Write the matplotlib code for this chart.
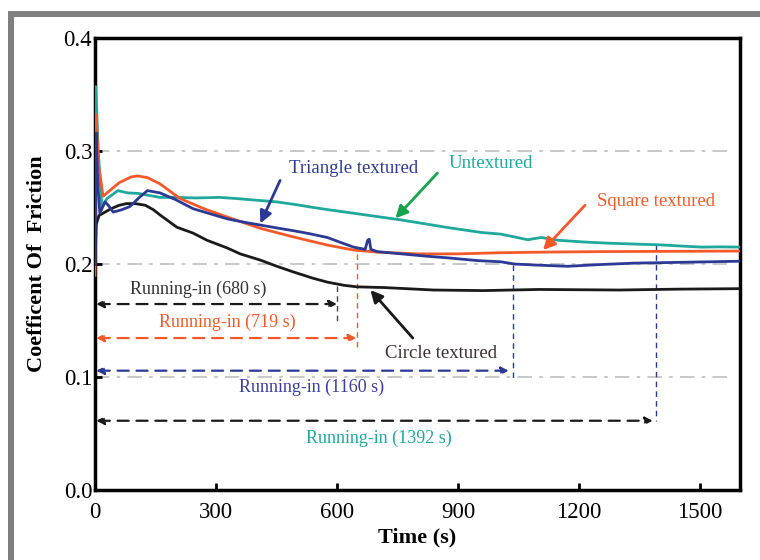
import numpy as np
import matplotlib.pyplot as plt
from matplotlib.patches import Rectangle

plt.rcParams['font.family'] = ['Liberation Serif', 'DejaVu Serif']

# Friction curves (time in s, coefficient of friction)
t_untex = [0, 2, 8, 17, 30, 57, 80, 107, 161, 200, 250, 308, 350, 400, 451, 500,
           534, 580, 641, 700, 760, 820, 880, 957, 1006, 1040, 1073, 1106, 1150,
           1213, 1270, 1337, 1400, 1450, 1503, 1550, 1600]
cof_untex = [0.250, 0.357, 0.300, 0.251, 0.258, 0.265, 0.263, 0.2625, 0.259, 0.259,
             0.2585, 0.259, 0.258, 0.2565, 0.255, 0.2525, 0.2505, 0.248, 0.245, 0.242,
             0.239, 0.2355, 0.232, 0.228, 0.2265, 0.224, 0.2215, 0.2235, 0.221, 0.2195,
             0.2185, 0.2177, 0.217, 0.216, 0.215, 0.2152, 0.215]

t_square = [0, 3, 8, 20, 40, 60, 89, 105, 130, 161, 211, 270, 328, 410, 492, 576,
            641, 700, 800, 900, 1006, 1100, 1255, 1400, 1600]
cof_square = [0.19, 0.332, 0.29, 0.260, 0.266, 0.272, 0.277, 0.278, 0.2765, 0.271,
              0.258, 0.249, 0.2416, 0.2316, 0.224, 0.2168, 0.2124, 0.2105, 0.209,
              0.209, 0.210, 0.2105, 0.211, 0.2112, 0.2115]

t_tri = [0, 3, 7, 12, 25, 33, 45, 66, 87, 110, 130, 161, 200, 243, 290, 328, 370,
         410, 450, 492, 530, 576, 610, 641, 670, 676, 680, 684, 700, 760, 820, 874,
         950, 1006, 1040, 1100, 1172, 1250, 1337, 1450, 1600]
cof_tri = [0.20, 0.316, 0.27, 0.245, 0.255, 0.252, 0.246, 0.248, 0.251, 0.259, 0.265,
           0.263, 0.257, 0.249, 0.244, 0.240, 0.237, 0.2345, 0.232, 0.2295, 0.227,
           0.2235, 0.219, 0.215, 0.213, 0.221, 0.222, 0.213, 0.211, 0.209, 0.207,
           0.2055, 0.203, 0.202, 0.200, 0.199, 0.198, 0.1995, 0.2008, 0.2015, 0.2025]

t_circle = [0, 3, 10, 20, 40, 60, 78, 100, 125, 145, 161, 203, 243, 278, 328, 360,
            410, 451, 492, 540, 576, 617, 650, 716, 840, 964, 1100, 1300, 1450, 1600]
cof_circle = [0.20, 0.235, 0.243, 0.245, 0.249, 0.252, 0.2535, 0.2535, 0.252, 0.248,
              0.2435, 0.2326, 0.2274, 0.221, 0.2142, 0.209, 0.2035, 0.198, 0.193,
              0.1875, 0.184, 0.1812, 0.1798, 0.1792, 0.177, 0.1765, 0.1775, 0.177,
              0.1778, 0.1782]

# running-in periods: arrow end t, arrow y, marker t, marker top, marker bottom
run_labels = ['Running-in (680 s)', 'Running-in (719 s)',
              'Running-in (1160 s)', 'Running-in (1392 s)']
run_end = [600, 648, 1026, 1383]
run_y = [0.1646, 0.1345, 0.1056, 0.0613]
mark_t = [600, 650, 1036, 1392]
mark_top = [0.1805, 0.209, 0.199, 0.217]
mark_bot = [0.148, 0.124, 0.097, 0.0613]
run_text_xy = [(256, 0.178), (328, 0.148), (537, 0.091), (703, 0.046)]

c_teal = '#1fa89b'
c_red = '#f4592a'
c_blue = '#2c3a96'
c_black = '#1a1a1a'
c_green = '#17a34a'

fig = plt.figure(figsize=(7.6, 5.6), dpi=100)
ax = fig.add_axes([0.125, 0.125, 0.849, 0.807])

# grey frame around the picture
fig.add_artist(Rectangle((8/760, 1 - 17/560), 1, 6/560, transform=fig.transFigure,
                         color='#7f7f7f', lw=0))
fig.add_artist(Rectangle((8/760, 0), 6/760, 1 - 11/560, transform=fig.transFigure,
                         color='#7f7f7f', lw=0))

for gy in [0.1, 0.2, 0.3]:
    ax.plot([0, 1570], [gy, gy], color='#c4c4c4', lw=1.3,
            dashes=(8, 4, 2, 4), zorder=1)

ax.plot(t_untex, cof_untex, color=c_teal, lw=2, zorder=3)
ax.plot(t_square, cof_square, color=c_red, lw=2, zorder=3)
ax.plot(t_tri, cof_tri, color=c_blue, lw=2, zorder=4)
ax.plot(t_circle, cof_circle, color=c_black, lw=2, zorder=3)

run_cols = [c_black, c_red, c_blue, c_black]
mark_cols = ['#444444', c_red, c_blue, c_blue]
text_cols = ['#333333', c_red, '#3a3ea0', c_teal]
for i in range(4):
    ax.annotate('', xy=(run_end[i], run_y[i]), xytext=(3, run_y[i]),
                arrowprops=dict(arrowstyle='<|-|>', color=run_cols[i], lw=1.6,
                                linestyle=(0, (5, 3.5)), shrinkA=0, shrinkB=0,
                                mutation_scale=11))
    ax.plot([mark_t[i], mark_t[i]], [mark_top[i], mark_bot[i]], color=mark_cols[i],
            lw=1, dashes=(4, 3))
    ax.text(run_text_xy[i][0], run_text_xy[i][1], run_labels[i], color=text_cols[i],
            fontsize=13, ha='center', va='center')

# curve labels with pointer arrows
labels = ['Triangle textured', 'Untextured', 'Square textured', 'Circle textured']
label_xy = [(641, 0.285), (981, 0.289), (1391, 0.255), (857, 0.121)]
arrow_from = [(459, 0.274), (849, 0.2805), (1215, 0.252), (788, 0.1345)]
arrow_to = [(410, 0.236), (745, 0.2405), (1111, 0.2124), (683, 0.177)]
label_cols = [c_blue, c_teal, c_red, '#3a3030']
arrow_cols = [c_blue, c_green, c_red, c_black]
for i in range(4):
    ax.text(label_xy[i][0], label_xy[i][1], labels[i], color=label_cols[i],
            fontsize=13.5, ha='center', va='center')
    ax.annotate('', xy=arrow_to[i], xytext=arrow_from[i],
                arrowprops=dict(arrowstyle='-|>', color=arrow_cols[i], lw=2,
                                shrinkA=0, shrinkB=0, mutation_scale=18))

ax.set_xlim(0, 1600)
ax.set_ylim(0, 0.4)
ax.set_xticks([0, 300, 600, 900, 1200, 1500])
ax.set_yticks([0.0, 0.1, 0.2, 0.3, 0.4])
ax.set_yticklabels(['0.0', '0.1', '0.2', '0.3', '0.4'])
ax.tick_params(direction='in', length=5, width=2, labelsize=16.5)
ax.tick_params(axis='x', pad=9)
ax.tick_params(axis='y', pad=2)
for s in ax.spines.values():
    s.set_linewidth(2.5)
ax.set_xlabel('Time (s)', fontsize=16, fontweight='bold', labelpad=3)
ax.set_ylabel('Coefficent Of  Friction', fontsize=16, fontweight='bold', labelpad=12)

fig.savefig('out.png', dpi=100)
